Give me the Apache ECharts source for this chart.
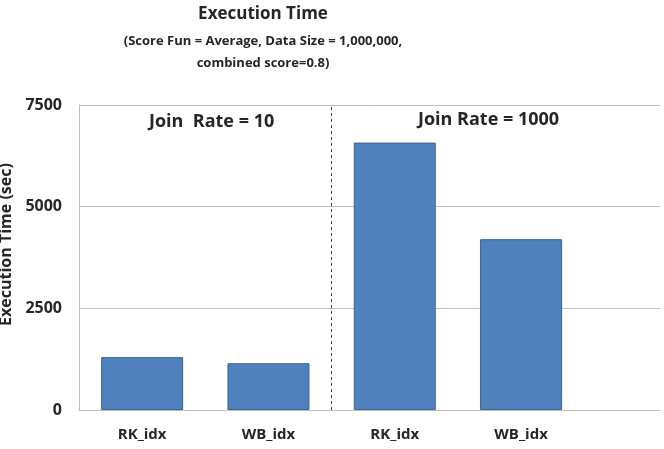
<!DOCTYPE html>
<html>
<head>
<meta charset="utf-8">
<script src="https://cdn.jsdelivr.net/npm/echarts@6/dist/echarts.min.js"></script>
<style>
  html, body { margin: 0; padding: 0; background: #fff; }
  #chart { width: 664px; height: 449px; }
</style>
</head>
<body>
<div id="chart"></div>
<script>
// data
const categories = ['RK_idx', 'WB_idx', 'RK_idx', 'WB_idx']
const execTime = [1300, 1150, 6575, 4200]
const yTicks = [0, 2500, 5000, 7500]
const groupLabels = ['Join  Rate = 10', 'Join Rate = 1000']

const FONT = '"Open Sans", "Noto Sans", sans-serif'

// x is measured in category slots, so bar i sits at i + 0.5
const barData = execTime.map((v, i) => [i + 0.5, v])

const chart = echarts.init(document.getElementById('chart'))

chart.setOption({
  animation: false,
  textStyle: { fontFamily: FONT },
  title: [
    {
      text: 'Execution Time',
      left: 258,
      textAlign: 'center',
      top: 1,
      textStyle: { fontSize: 17, fontWeight: 'bold', color: '#262626', fontFamily: FONT }
    },
    {
      text: '(Score Fun = Average, Data Size = 1,000,000,\ncombined score=0.8)',
      left: 258,
      textAlign: 'center',
      top: 25,
      textStyle: { fontSize: 13, fontWeight: 'bold', color: '#262626', lineHeight: 22, fontFamily: FONT, align: 'center' }
    }
  ],
  grid: {
    left: 79,
    right: 4,
    top: 105,
    bottom: 39,
    outerBoundsMode: 'none',
    containLabel: false
  },
  xAxis: {
    type: 'value',
    min: 0,
    max: 4.6,
    interval: 0.5,
    splitLine: { show: false },
    axisTick: { show: false },
    axisLine: { show: true, lineStyle: { color: '#bfbfbf', width: 1 } },
    axisLabel: {
      margin: 17,
      fontSize: 15,
      fontWeight: 'bold',
      color: '#262626',
      showMinLabel: true,
      showMaxLabel: false,
      formatter: function (v) {
        const i = v - 0.5
        if (Math.abs(i - Math.round(i)) < 1e-6 && categories[Math.round(i)] !== undefined) {
          return categories[Math.round(i)]
        }
        return ''
      }
    }
  },
  yAxis: {
    type: 'value',
    min: yTicks[0],
    max: yTicks[yTicks.length - 1],
    interval: 2500,
    name: 'Execution Time (sec)',
    nameLocation: 'middle',
    nameGap: 64,
    nameTextStyle: { fontSize: 16, fontWeight: 'bold', color: '#262626', padding: [0, 0, 0, 26] },
    axisLine: { show: true, lineStyle: { color: '#bfbfbf', width: 1 } },
    axisTick: { show: false },
    splitLine: { show: true, lineStyle: { color: '#bfbfbf', width: 1 } },
    axisLabel: {
      margin: 17, fontSize: 16, fontWeight: 'bold', color: '#262626',
      formatter: function (v) { return String(v) }
    }
  },
  graphic: [
    {
      type: 'text',
      left: 229 - 80,
      top: 113,
      style: { text: groupLabels[0], fontSize: 18, fontWeight: 'bold', fill: '#262626', fontFamily: FONT, width: 160, align: 'center' }
    },
    {
      type: 'text',
      left: 508 - 90,
      top: 111,
      style: { text: groupLabels[1], fontSize: 18, fontWeight: 'bold', fill: '#262626', fontFamily: FONT, width: 180, align: 'center' }
    }
  ],
  series: [
    {
      type: 'bar',
      data: barData,
      barWidth: 82,
      itemStyle: { color: '#4f81bd', borderColor: '#3b6491', borderWidth: 1 },
      markLine: {
        symbol: 'none',
        silent: true,
        label: { show: false },
        lineStyle: { type: [3, 3], color: '#404040', width: 1 },
        data: [[{ coord: [2, 0] }, { coord: [2, 7500] }]]
      }
    }
  ]
})
</script>
</body>
</html>
